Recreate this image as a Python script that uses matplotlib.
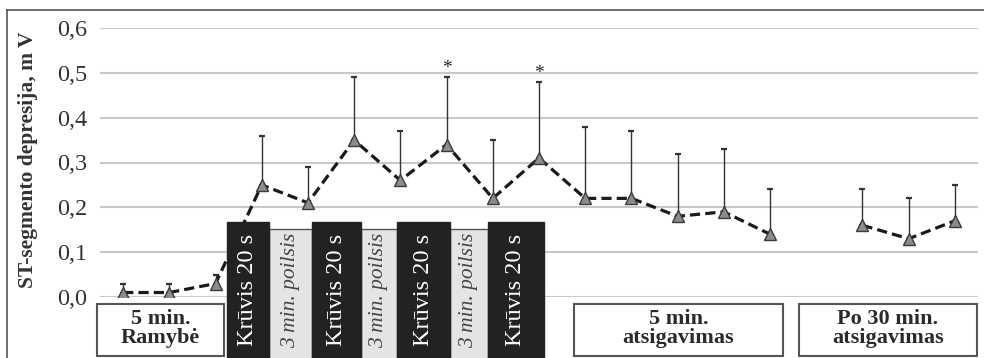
import numpy as np
import matplotlib
matplotlib.use("Agg")
from matplotlib import pyplot as plt
from matplotlib import patches

plt.rcParams['font.family'] = ['Liberation Serif', 'DejaVu Serif']

# ST depression, mean and upper SD per measurement point (15 = gap before 30 min recovery)
points = np.arange(19)
st_mean = [0.01, 0.01, 0.03, 0.25, 0.21, 0.35, 0.26, 0.34, 0.22, 0.31,
           0.22, 0.22, 0.18, 0.19, 0.14, np.nan, 0.16, 0.13, 0.17]
st_sd = [0.02, 0.02, 0.02, 0.11, 0.08, 0.14, 0.11, 0.15, 0.13, 0.17,
         0.16, 0.15, 0.14, 0.14, 0.10, np.nan, 0.08, 0.09, 0.08]
significant = [7, 9]
yticks = [0.0, 0.1, 0.2, 0.3, 0.4, 0.5, 0.6]
ytick_labels = ["0,0", "0,1", "0,2", "0,3", "0,4", "0,5", "0,6"]

load_label = "Krūvis 20 s"
rest_label = "3 min. poilsis"
phase_labels = ["5 min.\nRamybė", "5 min.\natsigavimas", "Po 30 min.\natsigavimas"]

W, H = 984, 358
fig = plt.figure(figsize=(W / 100, H / 100), dpi=100)
ax = fig.add_axes([100 / W, 1 - 297 / H, 878 / W, 269 / H])

st_mean = np.array(st_mean)
st_sd = np.array(st_sd)

ax.errorbar(points, st_mean, yerr=[np.zeros_like(st_sd), st_sd], fmt='none',
            ecolor='#333333', elinewidth=1.0, capsize=2.3, capthick=1.6, zorder=2)
ax.plot(points, st_mean, color='#1a1a1a', lw=2.3, linestyle=(0, (3.2, 1.6)),
        zorder=2.5)
ax.plot(points, st_mean, linestyle='none', marker='^', markersize=8,
        markerfacecolor='#8c8c8c', markeredgecolor='#3a3a3a',
        markeredgewidth=1.0, zorder=3)

for i in significant:
    ax.text(points[i], st_mean[i] + st_sd[i], "*", ha='center',
            va='bottom', fontsize=14, color='#222222')

ax.set_xlim(-0.5, 18.5)
ax.set_ylim(0, 0.6)
ax.set_yticks(yticks)
ax.set_yticklabels(ytick_labels, fontsize=17.5, color='#333333')
ax.set_xticks([])
ax.tick_params(axis='y', length=0, pad=9)
ax.grid(axis='y', color='#c8c8c8', lw=1.5)
ax.set_axisbelow(True)
for s in ax.spines.values():
    s.set_visible(False)

# exercise / rest protocol strips
load_edges = [(2.248, 3.157), (4.088, 5.148), (5.927, 7.074), (7.896, 9.108)]
rest_edges = [(3.157, 4.088), (5.148, 5.927), (7.074, 7.896)]
bottom = -0.15
for x0, x1 in rest_edges:
    ax.add_patch(patches.Rectangle((x0, bottom), x1 - x0, 0.152 - bottom,
                                   facecolor='#e4e4e6', edgecolor='#555555',
                                   lw=1.0, clip_on=False, zorder=4))
    ax.text((x0 + x1) / 2, 0.016, rest_label, rotation=90, ha='center',
            va='center', fontsize=15.5, style='italic', color='#444444',
            clip_on=False, zorder=5)
for x0, x1 in load_edges:
    ax.add_patch(patches.Rectangle((x0, bottom), x1 - x0, 0.167 - bottom,
                                   facecolor='#222222', edgecolor='#222222',
                                   lw=1.0, clip_on=False, zorder=4))
    ax.text((x0 + x1) / 2, 0.016, load_label, rotation=90, ha='center',
            va='center', fontsize=17.5, color='white', clip_on=False, zorder=5)

# phase boxes below the axis
phase_edges = [(-0.565, 2.183), (9.757, 14.28), (14.626, 18.478)]
for (x0, x1), label in zip(phase_edges, phase_labels):
    ax.add_patch(patches.Rectangle((x0, -0.132), x1 - x0, 0.116,
                                   facecolor='white', edgecolor='#555555',
                                   lw=1.5, clip_on=False, zorder=4))
    ax.text((x0 + x1) / 2, -0.07, label, ha='center', va='center',
            fontsize=16, fontweight='bold', color='#2a2a2a',
            linespacing=0.95, clip_on=False, zorder=5)

fig.text(28 / W, 1 - 160 / H, "ST-segmento depresija, m V", rotation=90,
         ha='center', va='center', fontsize=15.5, fontweight='bold',
         color='#333333')

# outer frame (top and left edges)
fig.add_artist(plt.Line2D([7 / W, 1], [1 - 9.5 / H, 1 - 9.5 / H],
                          color='#555555', lw=1.2))
fig.add_artist(plt.Line2D([7 / W, 7 / W], [0, 1 - 9.5 / H],
                          color='#555555', lw=1.2))

fig.savefig("out.png", dpi=100)
